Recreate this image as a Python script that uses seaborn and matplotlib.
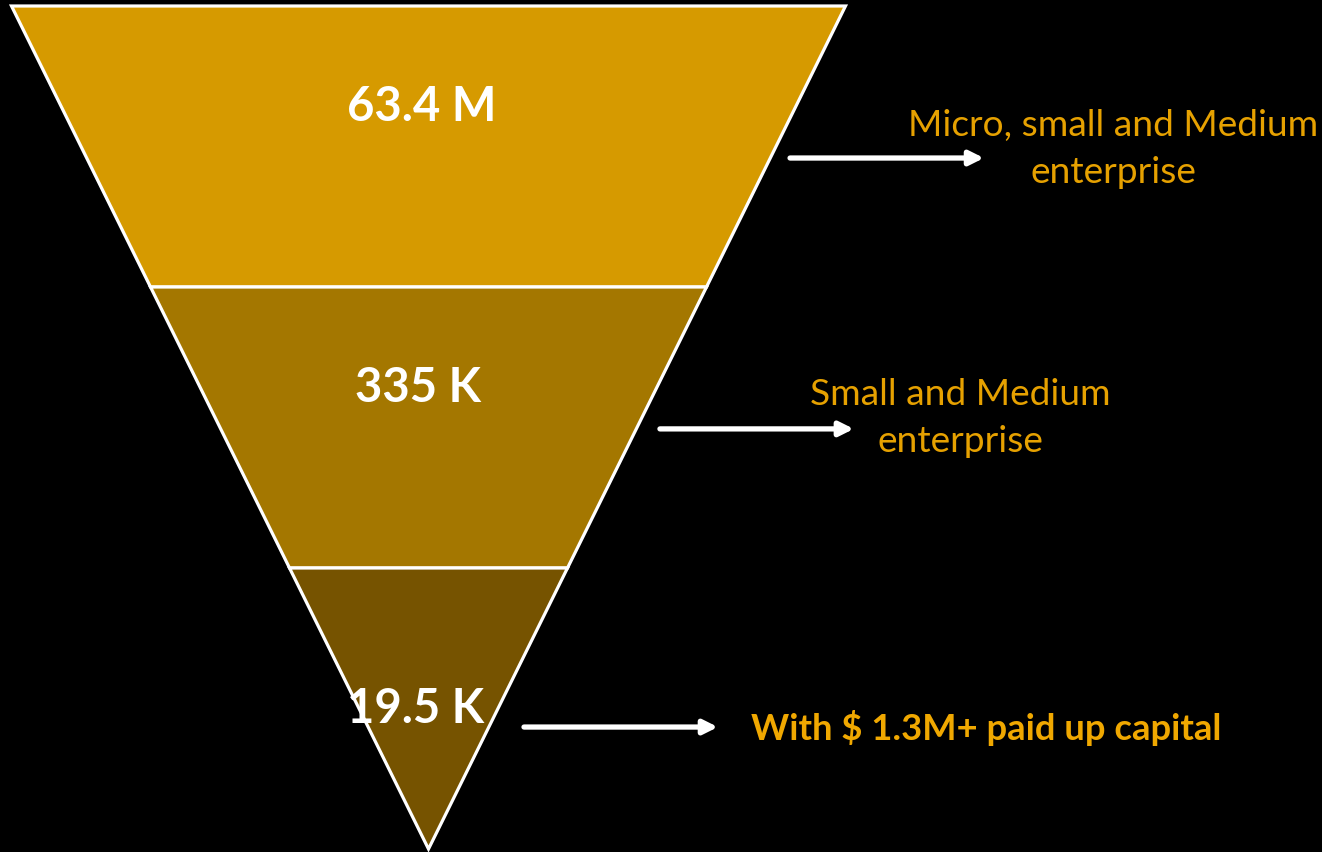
import matplotlib
matplotlib.use("Agg")
import matplotlib.pyplot as plt
import seaborn as sns

# ---- data ----
stage_values = ["63.4 M", "335 K", "19.5 K"]
stage_desc = ["Micro, small and Medium\nenterprise",
              "Small and Medium\nenterprise",
              "With $ 1.3M+ paid up capital"]
stage_colors = ["#D69A00", "#A47700", "#765300"]

# ---- layout (axes units: funnel half-width = 1 at top, height 1 per stage) ----
n = len(stage_values)
value_y_off = [0.356, 0.356, 0.498]
value_x = [-0.016, -0.025, -0.030]
arrow_y = [2.459, 1.495, 0.434]
arrow_x0 = [0.867, 0.555, 0.229]
arrow_len = 0.465
desc_xy = [(1.642, 2.493), (1.275, 1.536), (0.773, 0.434)]
desc_ha = ["center", "center", "left"]
desc_bold = [False, False, True]
desc_size = [26.7, 26.7, 26.2]

sns.set_theme(style="dark")
plt.rcParams['font.family'] = ['Lato', 'DejaVu Sans']

fig = plt.figure(figsize=(13.22, 8.53), dpi=100, facecolor="black")
ax = fig.add_axes([0, 0, 1, 1])
ax.set_facecolor("black")
ax.set_xlim(-428.5 / 417, (1322 - 428.5) / 417)
ax.set_ylim(-3 / 281, 3 + 7 / 281)
ax.axis("off")

for i in range(n):
    top = n - i
    bot = n - i - 1
    wt = top / n
    wb = bot / n
    xs = [-wt, wt, wb, -wb]
    ys = [top, top, bot, bot]
    ax.fill(xs, ys, color=stage_colors[i], edgecolor="white", linewidth=2.3,
            joinstyle="miter", zorder=2)
    ax.text(value_x[i], top - value_y_off[i], stage_values[i], color="white",
            fontsize=34, fontweight="bold", ha="center", va="center", zorder=4)
    ax.annotate("", xy=(arrow_x0[i] + arrow_len, arrow_y[i]),
                xytext=(arrow_x0[i], arrow_y[i]),
                arrowprops=dict(arrowstyle="-|>,head_length=0.7,head_width=0.35",
                                color="white", lw=3.8, shrinkA=0, shrinkB=0),
                zorder=3)
    ax.text(desc_xy[i][0], desc_xy[i][1], stage_desc[i],
            color="#F0A800" if desc_bold[i] else "#E6A100",
            fontsize=desc_size[i], fontweight="bold" if desc_bold[i] else "normal",
            ha=desc_ha[i], va="center", linespacing=1.52, multialignment="center")

fig.savefig("out.png", dpi=100, facecolor="black")
